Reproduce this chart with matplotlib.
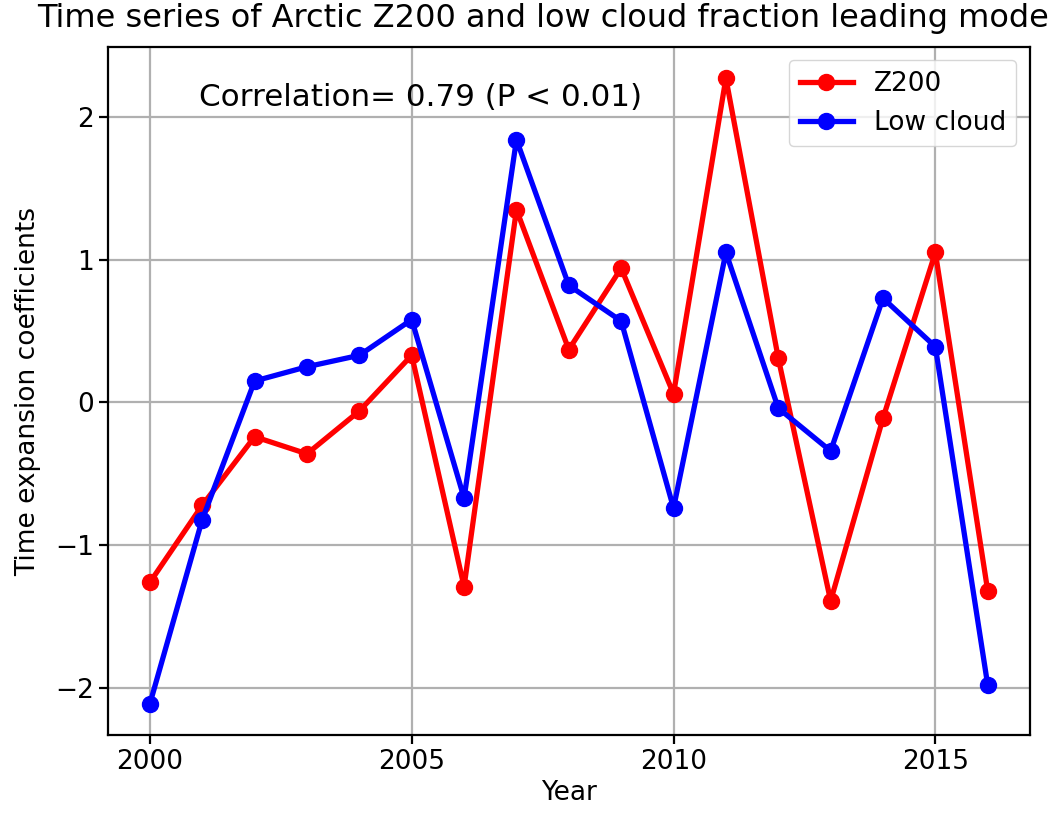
import matplotlib.pyplot as plt
import numpy as np

years = np.arange(2000, 2017)
z200 = np.array([-1.26, -0.72, -0.24, -0.36, -0.06, 0.33, -1.29, 1.35, 0.37,
                 0.94, 0.06, 2.27, 0.31, -1.39, -0.11, 1.05, -1.32])
low_cloud = np.array([-2.11, -0.82, 0.15, 0.25, 0.33, 0.58, -0.67, 1.84, 0.82,
                      0.57, -0.74, 1.05, -0.04, -0.34, 0.73, 0.39, -1.98])

fig = plt.figure(figsize=(10.63, 8.13), dpi=100)
ax = fig.add_axes([0.1016, 0.0959, 0.8670, 0.8463])

ax.plot(years, z200, 'o-', color='red', label='Z200', linewidth=3.8, markersize=11.5)
ax.plot(years, low_cloud, 'o-', color='blue', label='Low cloud', linewidth=3.8, markersize=11.5)

ax.text(0.339, 0.926, 'Correlation= 0.79 (P < 0.01)', transform=ax.transAxes,
        ha='center', va='center', fontsize=22.3)

# title placed from the left so the whole line stays inside the figure
fig.text(0.035, 0.977, 'Time series of Arctic Z200 and low cloud fraction leading mode',
         ha='left', va='center', fontsize=23)
ax.set_xlabel('Year', fontsize=19)
ax.set_ylabel('Time expansion coefficients', fontsize=19, labelpad=10)
ax.set_xticks([2000, 2005, 2010, 2015])
ax.tick_params(labelsize=19, width=1.6, length=6.5)
for s in ax.spines.values():
    s.set_linewidth(1.6)
ax.grid(True, linewidth=1.6)
ax.legend(loc='upper right', fontsize=19)

fig.savefig('out.png', dpi=100)
